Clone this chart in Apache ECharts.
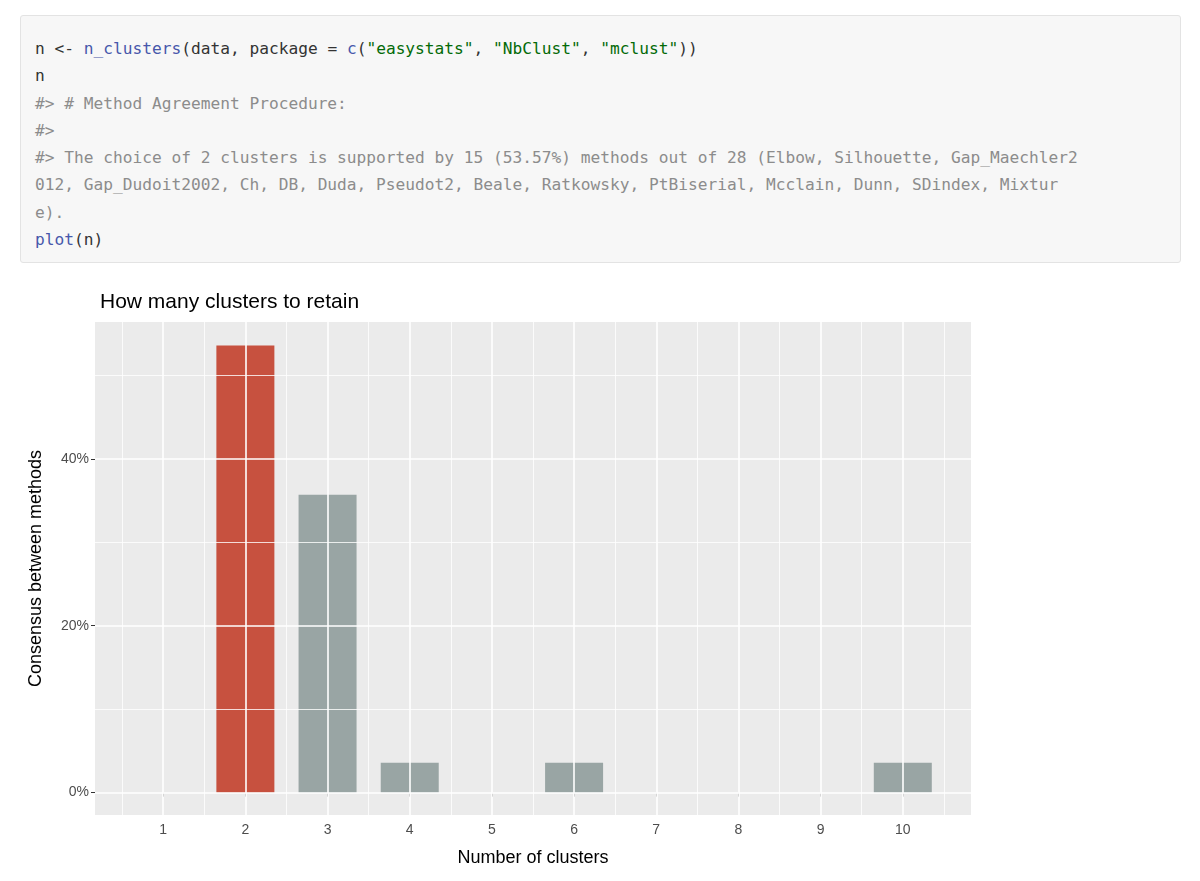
<!DOCTYPE html>
<html><head><meta charset="utf-8">
<script src="https://cdn.jsdelivr.net/npm/echarts@6/dist/echarts.min.js"></script>
<style>
body{margin:0;background:#fff;width:1200px;height:881px;overflow:hidden;font-family:"DejaVu Sans Mono",monospace}
#code{position:absolute;left:20px;top:15px;width:1161px;height:248px;background:#f7f7f7;border:1px solid #e3e3e3;border-radius:3px;box-sizing:border-box}
#code pre{margin:0;padding:19px 0 0 14px;font-family:"DejaVu Sans Mono",monospace;font-size:16.2px;line-height:27.3px;color:#333}
.f{color:#4758ab}.s{color:#036a07}.c{color:#8c8c8c}
#chart{position:absolute;left:0;top:270px;width:1200px;height:611px}
</style></head><body>
<div id="code"><pre>n &lt;- <span class="f">n_clusters</span>(data, package = <span class="f">c</span>(<span class="s">"easystats"</span>, <span class="s">"NbClust"</span>, <span class="s">"mclust"</span>))
n
<span class="c">#&gt; # Method Agreement Procedure:</span>
<span class="c">#&gt; </span>
<span class="c">#&gt; The choice of 2 clusters is supported by 15 (53.57%) methods out of 28 (Elbow, Silhouette, Gap_Maechler2</span>
<span class="c">012, Gap_Dudoit2002, Ch, DB, Duda, Pseudot2, Beale, Ratkowsky, PtBiserial, Mcclain, Dunn, SDindex, Mixtur</span>
<span class="c">e).</span>
<span class="f">plot</span>(n)</pre></div>
<div id="chart"></div>
<script>
const clusters=[1,2,3,4,5,6,7,8,9,10];
const nClusters=[2,3,4,6,10];
const consensus=[53.57,35.71,3.57,3.57,3.57];
const selected=[true,false,false,false,false];
const yTicks=[0,20,40];
const yMinor=[10,30,50];
const xMinor=[0.5,1.5,2.5,3.5,4.5,5.5,6.5,7.5,8.5,9.5,10.5];

const ch=echarts.init(document.getElementById('chart'));
const gl=(v,w)=>({ [v.a]:v.v, lineStyle:{color:'#fff',width:w,type:'solid'} });
const mk=[];
clusters.forEach(v=>mk.push({xAxis:v,lineStyle:{color:'#fff',width:1.6,type:'solid'}}));
xMinor.forEach(v=>mk.push({xAxis:v,lineStyle:{color:'#fff',width:0.8,type:'solid'}}));
yTicks.forEach(v=>mk.push({yAxis:v,lineStyle:{color:'#fff',width:1.6,type:'solid'}}));
yMinor.forEach(v=>mk.push({yAxis:v,lineStyle:{color:'#fff',width:0.8,type:'solid'}}));
ch.setOption({
 animation:false,
 title:{text:'How many clusters to retain',left:95,top:17,textStyle:{fontFamily:'Liberation Sans',fontSize:21,fontWeight:'normal',color:'#000'}},
 grid:{left:95,top:52,width:876,height:493,backgroundColor:'#ebebeb',show:true,borderWidth:0},
 xAxis:{type:'value',min:0.17,max:10.83,name:'Number of clusters',nameLocation:'middle',nameGap:34,
  nameTextStyle:{fontFamily:'Liberation Sans',fontSize:18,color:'#000'},
  axisLine:{show:false},splitLine:{show:false},
  axisTick:{show:true,customValues:clusters,length:4,lineStyle:{color:'#333'}},
  axisLabel:{customValues:clusters,fontFamily:'Liberation Sans',fontSize:14,color:'#4d4d4d',margin:8}},
 yAxis:{type:'value',min:-2.68,max:56.4,name:'Consensus between methods',nameLocation:'middle',nameGap:50,
  nameTextStyle:{fontFamily:'Liberation Sans',fontSize:18,color:'#000'},
  axisLine:{show:false},splitLine:{show:false},
  axisTick:{show:true,customValues:yTicks,length:4,lineStyle:{color:'#333'}},
  axisLabel:{customValues:yTicks,formatter:v=>v+'%',fontFamily:'Liberation Sans',fontSize:14,color:'#4d4d4d',margin:6}},
 series:[
  {type:'line',data:[],silent:true,markLine:{silent:true,symbol:'none',label:{show:false},animation:false,data:mk},z:1},
  {type:'bar',barWidth:58,z:3,data:nClusters.map((x,i)=>({value:[x,consensus[i]],itemStyle:{color:selected[i]?'#c7513f':'#99a5a4'}}))}
 ]
});
</script></body></html>
